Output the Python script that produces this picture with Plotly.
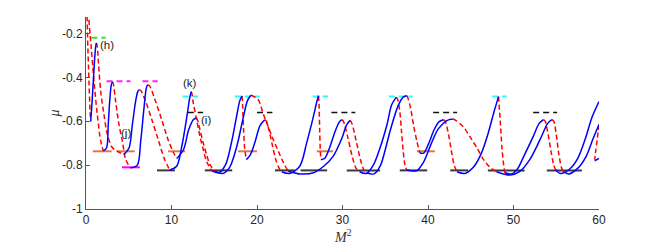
import plotly.graph_objects as go

# ---------------- data ----------------
blue_x = [
    [0.55, 0.68, 0.85, 1.02, 1.15, 1.22],
    [2.02, 2.4, 2.6, 2.77, 2.96, 3.1],
    [4.44, 5.03, 5.42, 5.8, 6.05, 6.2],
    [5.22, 6.0, 6.4, 6.78, 7.05, 7.2],
    [9.8, 10.6, 11.2, 11.8, 12.1, 12.3],
    [10.6, 11.4, 12.0, 12.55, 12.87],
    [14.7, 15.5, 16.3, 17.0, 17.6, 18.0, 18.25],
    [15.1, 16.0, 16.8, 17.6, 18.3, 18.9, 19.3],
    [18.75, 19.2, 19.8, 20.35, 20.9],
    [22.9, 23.8, 25.0, 25.8, 26.6, 27.0, 27.2],
    [23.66, 25.0, 26.6, 27.8, 28.9, 29.9, 30.5, 30.9],
    [27.47, 27.9, 28.5, 29.1, 29.6, 29.9],
    [32.0, 32.8, 33.6, 34.4, 35.2, 35.75, 36.3],
    [32.8, 33.7, 34.4, 35.0, 35.6, 36.5, 37.1, 37.55],
    [37.5, 38.7, 39.5, 40.3, 41.2, 42.2, 42.9],
    [39.05, 39.5, 40.1, 40.7, 41.3, 41.8],
    [43.4, 44.3, 45.3, 46.2, 47.0, 47.7, 48.25],
    [49.0, 49.8, 50.5, 51.2, 52.3, 53.0, 53.5],
    [48.0, 49.6, 50.7, 51.9, 53.1, 54.0, 54.5],
    [54.9, 55.5, 56.5, 57.5, 58.4, 59.2, 60.0],
    [55.8, 56.5, 57.5, 58.5, 59.3, 60.0],
    [59.5, 60.0],
]
blue_y = [
    [-0.6, -0.53, -0.42, -0.31, -0.255, -0.243],
    [-0.735, -0.722, -0.616, -0.51, -0.434, -0.42],
    [-0.752, -0.722, -0.616, -0.51, -0.465, -0.456],
    [-0.813, -0.8, -0.69, -0.54, -0.45, -0.434],
    [-0.822, -0.805, -0.715, -0.578, -0.5, -0.465],
    [-0.77, -0.73, -0.64, -0.593, -0.585],
    [-0.825, -0.835, -0.8, -0.7, -0.58, -0.505, -0.485],
    [-0.828, -0.838, -0.81, -0.72, -0.6, -0.505, -0.482],
    [-0.775, -0.755, -0.69, -0.62, -0.593],
    [-0.83, -0.838, -0.805, -0.7, -0.578, -0.51, -0.484],
    [-0.828, -0.84, -0.835, -0.805, -0.76, -0.68, -0.615, -0.596],
    [-0.775, -0.77, -0.72, -0.65, -0.605, -0.593],
    [-0.83, -0.838, -0.8, -0.72, -0.616, -0.525, -0.49],
    [-0.835, -0.84, -0.805, -0.73, -0.64, -0.53, -0.49, -0.484],
    [-0.822, -0.825, -0.785, -0.71, -0.635, -0.597, -0.59],
    [-0.745, -0.745, -0.7, -0.64, -0.602, -0.593],
    [-0.83, -0.838, -0.81, -0.75, -0.66, -0.56, -0.488],
    [-0.835, -0.84, -0.815, -0.76, -0.67, -0.61, -0.593],
    [-0.83, -0.845, -0.83, -0.775, -0.684, -0.61, -0.593],
    [-0.82, -0.838, -0.82, -0.77, -0.68, -0.58, -0.51],
    [-0.83, -0.84, -0.815, -0.76, -0.68, -0.615],
    [-0.78, -0.77],
]

red_x = [
    [0.05, 0.12, 0.22, 0.35, 0.47, 0.55],
    [0.2, 0.3, 0.62, 0.94, 1.32, 1.72, 2.02],
    [1.22, 1.32, 1.45, 1.72, 2.1, 2.5, 3.07, 3.66, 4.44],
    [3.1, 3.2, 3.47, 3.86, 4.25, 4.65, 5.2],
    [6.2, 6.4, 6.9, 7.7, 8.45, 9.2, 9.8],
    [7.2, 7.45, 8.07, 8.85, 9.6, 10.2, 10.6],
    [12.3, 12.36, 12.55, 12.94, 13.33, 13.72, 14.1, 14.7],
    [12.87, 13.0, 13.33, 13.72, 14.1, 14.5, 15.1],
    [18.25, 18.32, 18.42, 18.55, 18.75],
    [19.3, 19.5, 20.15, 20.7, 21.3, 21.9, 22.5, 23.1, 23.66],
    [20.9, 21.1, 21.4, 21.8, 22.2, 22.6, 22.9],
    [27.2, 27.27, 27.33, 27.4, 27.47],
    [29.9, 30.1, 30.6, 31.1, 31.6, 32.0],
    [30.9, 31.1, 31.6, 32.1, 32.5, 32.8],
    [36.3, 36.45, 36.7, 36.9, 37.1, 37.3, 37.5],
    [37.55, 37.7, 37.96, 38.3, 38.7, 39.05],
    [41.8, 42.0, 42.4, 42.8, 43.1, 43.4],
    [42.9, 43.2, 44.1, 44.9, 45.7, 46.5, 47.25, 48.0],
    [48.25, 48.45, 48.65, 48.85, 49.0],
    [53.5, 53.7, 54.0, 54.4, 54.7, 54.9],
    [54.5, 54.7, 55.0, 55.3, 55.6, 55.8],
    [60.0, 59.8, 59.6, 59.5],
]
red_y = [
    [-0.05, -0.12, -0.267, -0.42, -0.55, -0.6],
    [-0.03, -0.116, -0.267, -0.42, -0.57, -0.69, -0.735],
    [-0.243, -0.26, -0.33, -0.465, -0.57, -0.66, -0.72, -0.737, -0.752],
    [-0.42, -0.43, -0.51, -0.616, -0.69, -0.775, -0.813],
    [-0.456, -0.46, -0.502, -0.593, -0.684, -0.775, -0.822],
    [-0.434, -0.44, -0.502, -0.593, -0.684, -0.74, -0.77],
    [-0.465, -0.47, -0.517, -0.593, -0.669, -0.73, -0.783, -0.825],
    [-0.585, -0.59, -0.639, -0.7, -0.752, -0.798, -0.828],
    [-0.485, -0.53, -0.63, -0.72, -0.775],
    [-0.482, -0.485, -0.502, -0.563, -0.624, -0.684, -0.737, -0.79, -0.828],
    [-0.593, -0.6, -0.64, -0.71, -0.775, -0.815, -0.83],
    [-0.484, -0.54, -0.64, -0.73, -0.775],
    [-0.593, -0.6, -0.67, -0.755, -0.815, -0.83],
    [-0.596, -0.61, -0.69, -0.775, -0.822, -0.835],
    [-0.49, -0.5, -0.555, -0.646, -0.737, -0.798, -0.822],
    [-0.484, -0.5, -0.54, -0.616, -0.692, -0.745],
    [-0.593, -0.6, -0.66, -0.75, -0.805, -0.83],
    [-0.59, -0.595, -0.624, -0.67, -0.72, -0.775, -0.81, -0.83],
    [-0.488, -0.6, -0.72, -0.8, -0.835],
    [-0.593, -0.6, -0.65, -0.74, -0.8, -0.82],
    [-0.593, -0.6, -0.66, -0.75, -0.81, -0.83],
    [-0.615, -0.68, -0.74, -0.775],
]

# horizontal reference segments: (x start, x end) and level
green_dash_x = [(0.62, 2.3)]
green_dash_y = -0.219
magenta_dash_x = [(2.4, 5.2), (6.6, 8.4)]
magenta_dash_y = -0.418
cyan_dash_x = [(11.3, 13.1), (17.4, 20.3), (26.5, 28.3), (35.4, 38.2), (47.5, 49.2)]
cyan_dash_y = -0.487
black_dash_x = [(11.9, 13.7), (20.0, 21.8), (28.7, 31.5), (40.6, 43.4), (52.3, 55.1)]
black_dash_y = -0.56
orange_x = [(0.8, 3.0), (3.6, 5.7), (9.6, 11.6), (17.8, 20.0), (27.0, 28.9), (38.7, 40.8)]
orange_y = -0.737
magenta_solid_x = [(4.2, 6.3)]
magenta_solid_y = -0.81
dark_x = [(8.3, 10.4), (13.9, 17.1), (22.1, 24.4), (25.1, 28.2), (30.5, 34.4),
          (36.7, 39.9), (42.6, 44.7), (47.0, 51.3), (53.9, 58.0)]
dark_y = -0.824

labels = ["(h)", "(j)", "(k)", "(i)"]
label_x = [2.5, 4.7, 12.2, 14.0]
label_y = [-0.252, -0.654, -0.426, -0.593]

x_ticks = [0, 10, 20, 30, 40, 50, 60]
y_ticks = [-1, -0.8, -0.6, -0.4, -0.2]
y_tick_text = ["-1", "-0.8", "-0.6", "-0.4", "-0.2"]

# ---------------- figure ----------------
fig = go.Figure()


def add_segments(spans, level, color, dash, width):
    xs, ys = [], []
    for a, b in spans:
        xs += [a, b, None]
        ys += [level, level, None]
    fig.add_trace(go.Scatter(x=xs, y=ys, mode="lines",
                             line=dict(color=color, dash=dash, width=width),
                             hoverinfo="skip", showlegend=False))


add_segments(orange_x, orange_y, "#e2783f", "solid", 2)
add_segments(magenta_solid_x, magenta_solid_y, "#ff00ff", "solid", 2)
add_segments(dark_x, dark_y, "#3a3a3a", "solid", 2)
add_segments(green_dash_x, green_dash_y, "#22ee22", "6px,4px", 2)
add_segments(magenta_dash_x, magenta_dash_y, "#ff22ff", "6px,4px", 2)
add_segments(cyan_dash_x, cyan_dash_y, "#22ffff", "6px,4px", 2)
add_segments(black_dash_x, black_dash_y, "#111111", "6px,4px", 1.6)

for xs, ys in zip(red_x, red_y):
    fig.add_trace(go.Scatter(x=xs, y=ys, mode="lines",
                             line=dict(color="#ff0000", dash="5px,3px", width=1.5,
                                       shape="spline", smoothing=0.9),
                             hoverinfo="skip", showlegend=False))

for xs, ys in zip(blue_x, blue_y):
    fig.add_trace(go.Scatter(x=xs, y=ys, mode="lines",
                             line=dict(color="#0000ff", width=1.5,
                                       shape="spline", smoothing=0.9),
                             hoverinfo="skip", showlegend=False))

for t, x, y in zip(labels, label_x, label_y):
    fig.add_annotation(x=x, y=y, text=t, showarrow=False,
                       font=dict(family="Liberation Sans", size=11.5, color="#222"))

fig.add_annotation(xref="paper", yref="paper", x=-0.08, y=0.5,
                   text="<i>μ</i>", textangle=-90, showarrow=False,
                   font=dict(family="Liberation Serif", size=14, color="#333"))
fig.add_annotation(xref="paper", yref="paper", x=0.5, y=-0.143,
                   text="<i>M</i><sup>2</sup>", showarrow=False, yanchor="middle",
                   font=dict(family="Liberation Serif", size=14, color="#333"))

axis_common = dict(showgrid=False, zeroline=False, showline=True,
                   linecolor="#555555", linewidth=1, ticks="inside",
                   ticklen=4, tickcolor="#555555", mirror=False,
                   tickfont=dict(family="Liberation Sans", size=12, color="#262626"))

# the page body adds an 8 px offset, so margins are reduced by 8 px on left/top
fig.update_layout(
    width=661, height=248,
    margin=dict(l=78, r=70, t=9, b=47),
    paper_bgcolor="white", plot_bgcolor="white",
    showlegend=False,
    xaxis=dict(range=[0, 60], tickvals=x_ticks, **axis_common),
    yaxis=dict(range=[-1, -0.125], tickvals=y_ticks, ticktext=y_tick_text,
               **axis_common),
)

fig.write_html("out.html")
